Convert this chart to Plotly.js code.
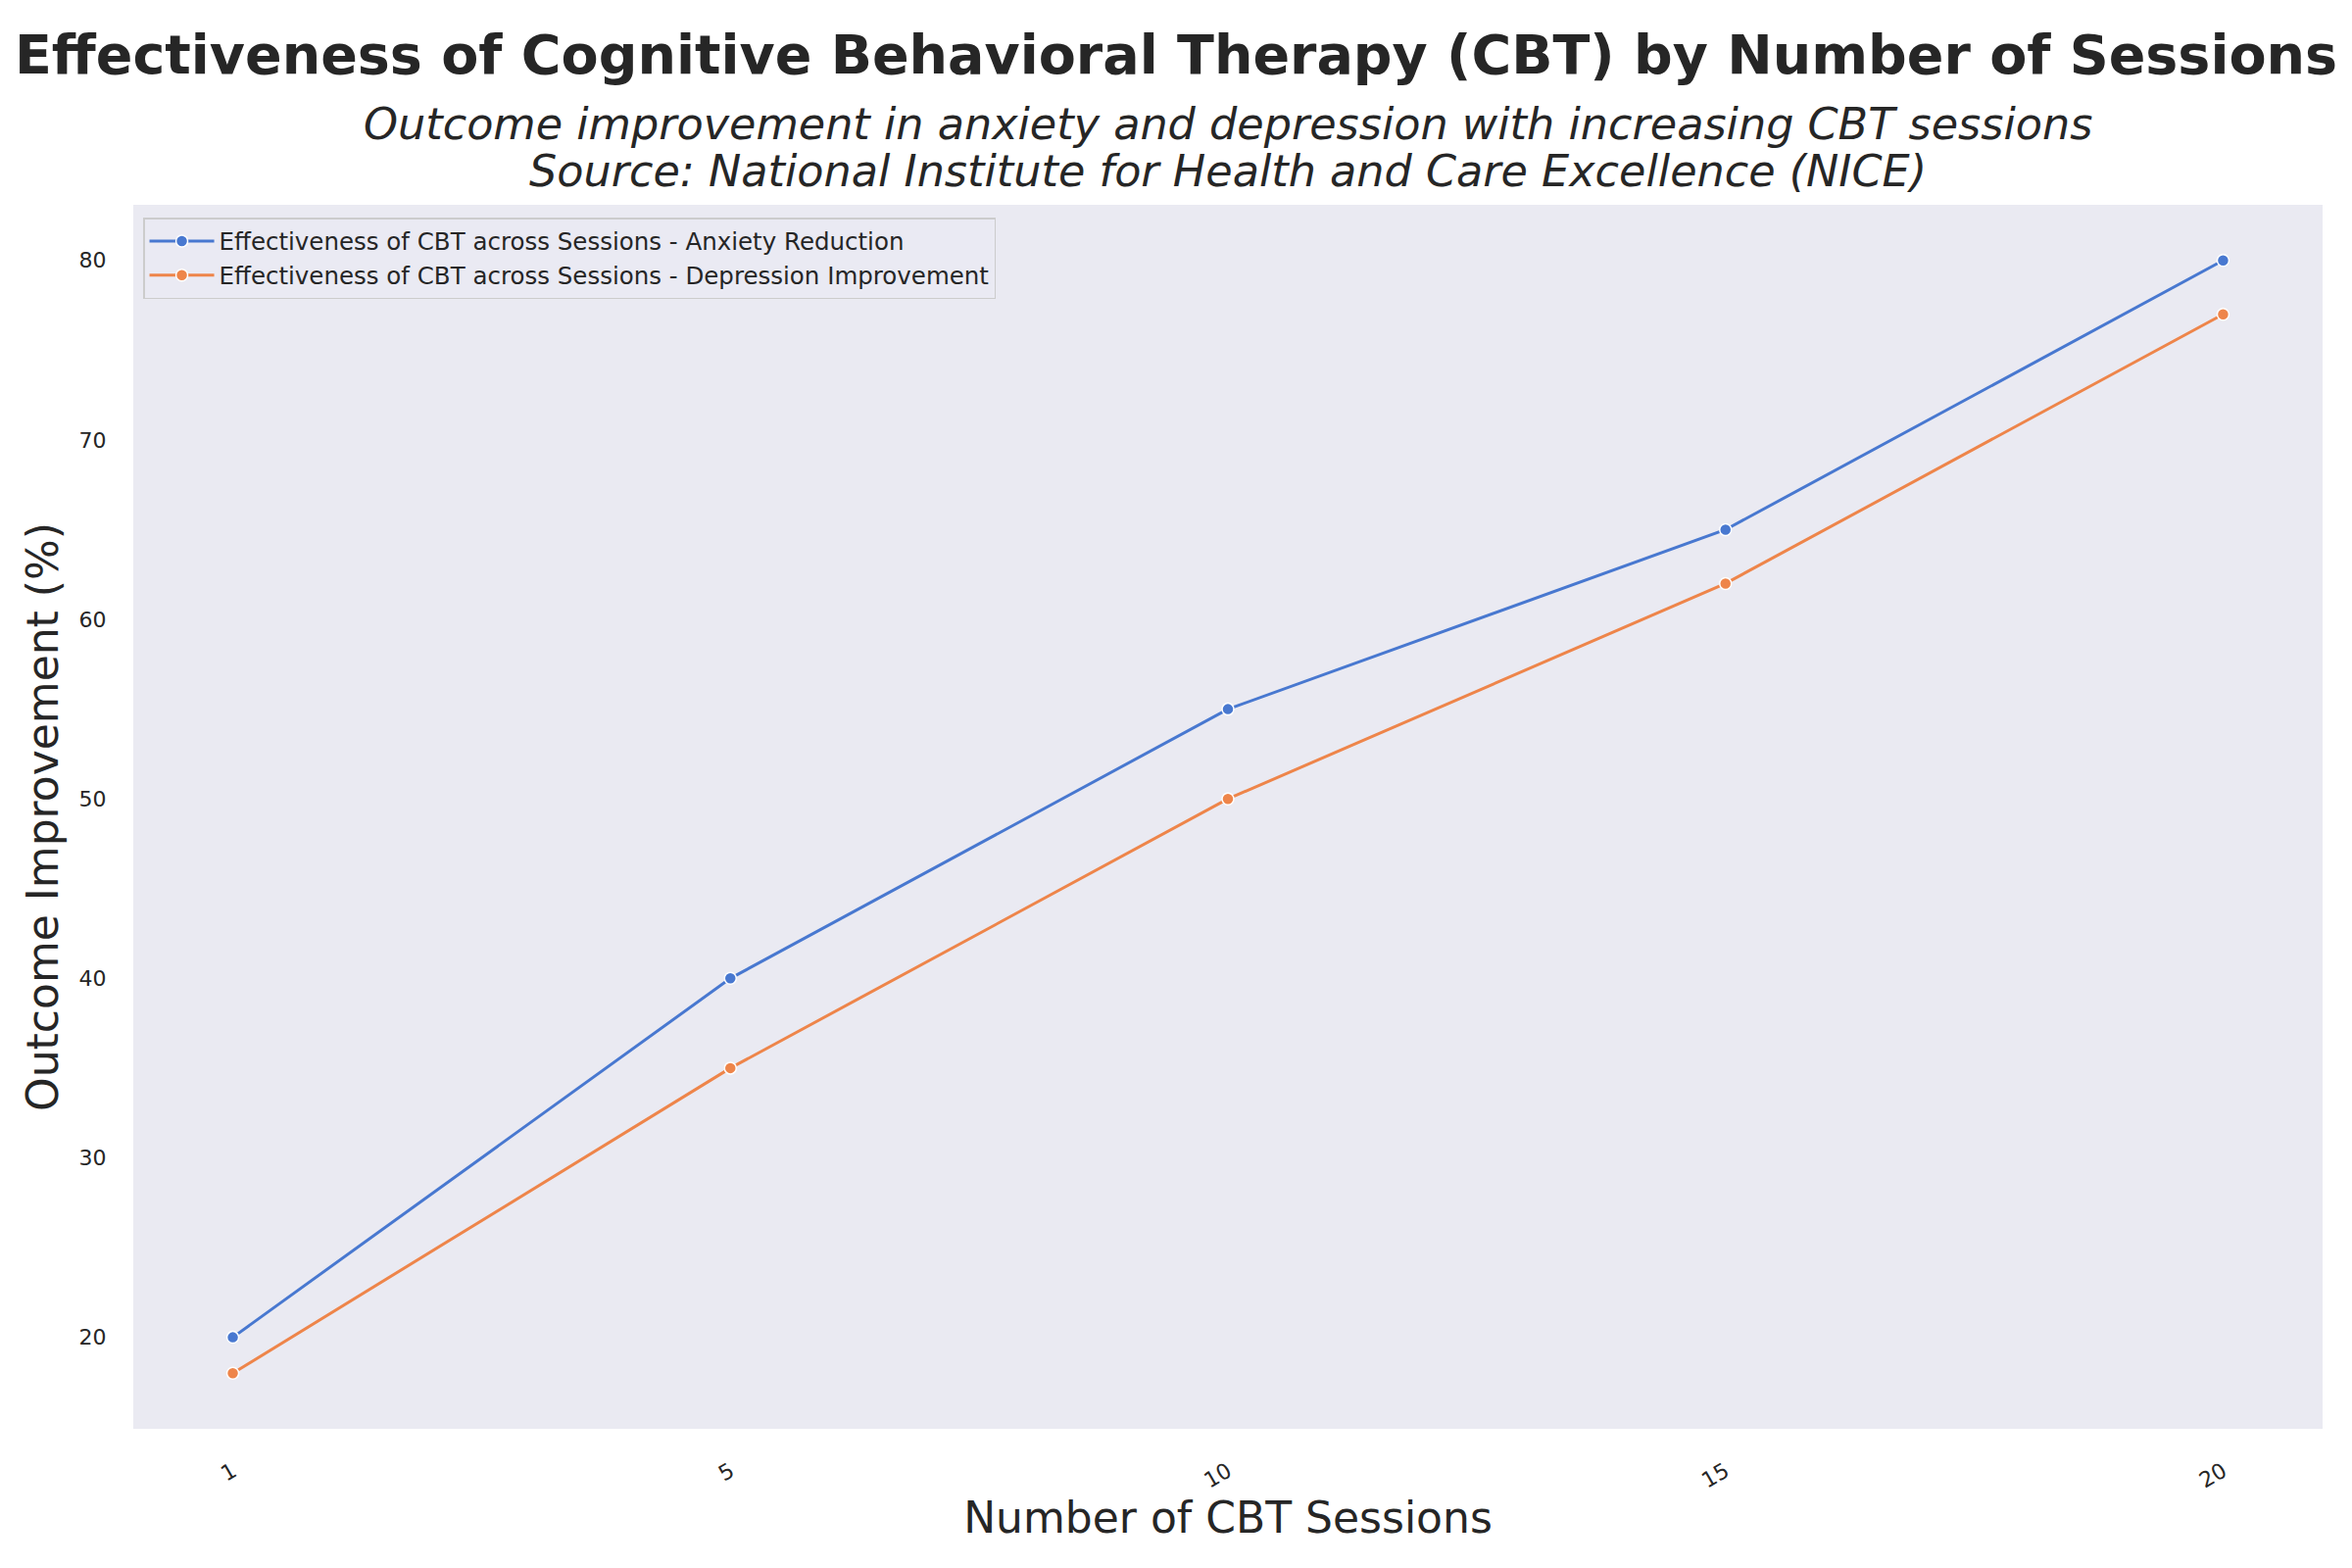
<!DOCTYPE html>
<html>
<head>
<meta charset="utf-8">
<script src="https://cdn.plot.ly/plotly-3.0.1.min.js"></script>
<style>html,body{margin:0;padding:0;background:#fff;}#chart{width:2400px;height:1600px;}</style>
</head>
<body>
<div id="chart"></div>
<script>
const sessions = ['1', '5', '10', '15', '20'];
const anxietyReduction = [20, 40, 55, 65, 80];
const depressionImprovement = [18, 35, 50, 62, 77];
const seriesNames = [
  'Effectiveness of CBT across Sessions - Anxiety Reduction',
  'Effectiveness of CBT across Sessions - Depression Improvement'
];
const titleText = 'Effectiveness of Cognitive Behavioral Therapy (CBT) by Number of Sessions';
const subtitleLines = [
  'Outcome improvement in anxiety and depression with increasing CBT sessions',
  'Source: National Institute for Health and Care Excellence (NICE)'
];
const xTitle = 'Number of CBT Sessions';
const yTitle = 'Outcome Improvement (%)';

const FONT = 'DejaVu Sans, Verdana, sans-serif';
const TXT = '#262626';

const traces = [
  {x: sessions, y: anxietyReduction, name: seriesNames[0], type: 'scatter', mode: 'lines+markers',
   line: {color: '#4878d0', width: 3}, marker: {color: '#4878d0', size: 12, line: {color: '#ffffff', width: 1.5}}},
  {x: sessions, y: depressionImprovement, name: seriesNames[1], type: 'scatter', mode: 'lines+markers',
   line: {color: '#ee854a', width: 3}, marker: {color: '#ee854a', size: 12, line: {color: '#ffffff', width: 1.5}}}
];

const layout = {
  width: 2400, height: 1600,
  paper_bgcolor: '#ffffff', plot_bgcolor: '#eaeaf2',
  margin: {l: 136, r: 30, t: 209, b: 142, autoexpand: false},
  font: {family: FONT, color: TXT},
  title: {text: titleText, x: 0.5, xref: 'container', xanchor: 'center', y: 1 - 56/1600, yref: 'container', yanchor: 'middle',
          font: {family: FONT, size: 55.5, weight: 'bold', color: TXT}},
  xaxis: {type: 'category', range: [-0.2, 4.2], showgrid: false, zeroline: false, showline: false,
          ticks: 'outside', ticklen: 21, tickcolor: 'rgba(0,0,0,0)', tickangle: -30,
          tickfont: {family: FONT, size: 22, color: TXT}, automargin: false,
          title: {text: xTitle, font: {family: FONT, size: 44, color: TXT}, standoff: 10}},
  yaxis: {range: [14.9, 83.1], dtick: 10, tick0: 0, showgrid: false, zeroline: false, showline: false,
          ticks: 'outside', ticklen: 22, tickcolor: 'rgba(0,0,0,0)',
          tickfont: {family: FONT, size: 22, color: TXT}, automargin: false,
          title: {text: yTitle, font: {family: FONT, size: 44, color: TXT}, standoff: 7}},
  legend: {x: 0.0045, y: 1 - 13/1249, xanchor: 'left', yanchor: 'top',
           bgcolor: 'rgba(234,234,242,0.8)', bordercolor: '#cccccc', borderwidth: 1.5,
           itemwidth: 66,
           font: {family: FONT, size: 24.5, color: TXT}, tracegroupgap: 0},
  annotations: [
    {text: subtitleLines[0], xref: 'paper', yref: 'paper', x: 0.5, y: 1 + (209-126)/1249, xanchor: 'center', yanchor: 'middle',
     showarrow: false, font: {family: FONT, size: 44.5, style: 'italic', color: TXT}},
    {text: subtitleLines[1], xref: 'paper', yref: 'paper', x: 0.5, y: 1 + (209-175)/1249, xanchor: 'center', yanchor: 'middle',
     showarrow: false, font: {family: FONT, size: 44.5, style: 'italic', color: TXT}}
  ],
  showlegend: true
};

Plotly.newPlot('chart', traces, layout, {displayModeBar: false, staticPlot: true});
</script>
</body>
</html>
